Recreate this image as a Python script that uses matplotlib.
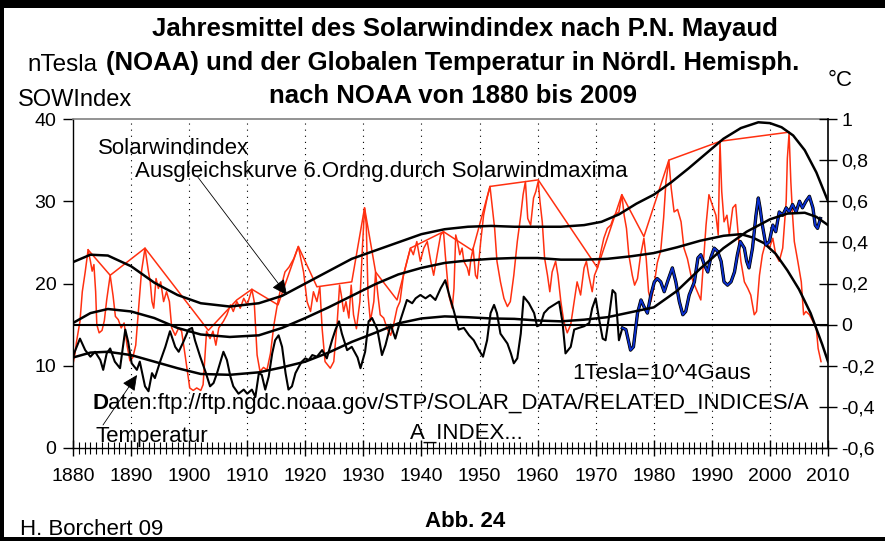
import matplotlib
matplotlib.use('Agg')
import matplotlib.pyplot as plt
from matplotlib.patches import Rectangle

plt.rcParams['font.family'] = ['Liberation Sans', 'DejaVu Sans']

# ---------------- data ----------------
# Solar wind index (nT), smoothed monthly values
sw_years = [1880.0, 1880.3, 1880.6, 1881.2, 1881.6, 1882.1, 1882.6, 1883.0, 1883.3, 1883.6, 1883.9,
            1884.1, 1884.5, 1885.0, 1885.4, 1885.8, 1886.4, 1886.9, 1887.3, 1887.8, 1888.3, 1888.8,
            1889.3, 1889.8, 1890.3, 1890.8, 1891.3, 1891.8, 1892.4, 1893.0, 1893.3, 1893.6, 1893.9,
            1894.3, 1894.7, 1895.1, 1895.6, 1896.1, 1896.6, 1897.0, 1897.6, 1898.2, 1898.7, 1899.3,
            1900.1, 1900.7, 1901.3, 1902.0, 1902.4, 1903.0, 1903.6, 1904.1, 1904.6, 1905.1, 1905.9,
            1906.5, 1907.1, 1907.6, 1908.2, 1908.8, 1909.4, 1910.0, 1910.8, 1911.2, 1911.7, 1912.2,
            1912.8, 1913.4, 1914.0, 1914.6, 1915.2, 1915.8, 1916.5, 1917.2, 1918.0, 1918.8, 1919.7,
            1920.3, 1920.9, 1921.4, 1922.0, 1922.5, 1922.9, 1923.4, 1924.3, 1924.9, 1925.5, 1925.9,
            1926.2, 1926.6, 1927.0, 1927.5, 1927.9, 1928.3, 1928.8, 1929.4, 1929.8, 1930.2, 1930.5,
            1930.8, 1931.2, 1931.8, 1932.1, 1932.5, 1932.9, 1933.5, 1934.1, 1934.7, 1935.2, 1935.8,
            1936.3, 1936.9, 1937.5, 1938.1, 1938.6, 1939.2, 1939.8, 1940.4, 1941.0, 1941.6, 1942.1,
            1942.7, 1943.3, 1943.8, 1944.1, 1944.7, 1945.3, 1945.6, 1945.9, 1946.2, 1946.6, 1947.0,
            1947.3, 1947.9, 1948.2, 1948.5, 1948.9, 1949.3, 1949.6, 1950.2, 1950.7, 1951.3, 1951.8,
            1952.2, 1952.6, 1953.0, 1953.6, 1954.2, 1954.8, 1955.3, 1955.9, 1956.5, 1957.1, 1957.5,
            1957.9, 1958.3, 1958.8, 1959.3, 1959.7, 1960.1, 1960.4, 1960.8, 1961.2, 1961.7, 1962.1,
            1962.5, 1963.1, 1963.5, 1964.0, 1964.5, 1965.1, 1965.7, 1966.3, 1966.8, 1967.4, 1968.0,
            1968.4, 1968.8, 1969.4, 1969.8, 1970.3, 1970.9, 1971.4, 1972.0, 1972.6, 1973.2, 1974.0,
            1974.5, 1974.9, 1975.3, 1975.7, 1976.3, 1976.7, 1977.2, 1977.7, 1978.3, 1978.7, 1979.1,
            1979.5, 1980.0, 1980.6, 1981.2, 1981.7, 1982.1, 1982.6, 1983.0, 1983.5, 1984.1, 1984.7,
            1985.2, 1985.8, 1986.4, 1986.9, 1987.5, 1988.1, 1988.5, 1989.0, 1989.5, 1990.1, 1990.7,
            1991.1, 1991.4, 1991.7, 1992.1, 1992.6, 1993.0, 1993.6, 1994.1, 1994.5, 1995.0, 1995.6,
            1996.2, 1996.7, 1997.3, 1997.7, 1998.2, 1998.7, 1999.3, 1999.9, 2000.5, 2001.0, 2001.6,
            2002.2, 2002.8, 2003.0, 2003.3, 2003.6, 2003.9, 2004.2, 2004.8, 2005.4, 2005.8, 2006.2,
            2006.8, 2007.4, 2008.0, 2008.3, 2008.8]
sw_vals = [10.2, 11.3, 12.9, 15.4, 19.0, 21.4, 24.1, 22.7, 21.5, 22.3, 19.0,
           15.0, 14.0, 14.3, 15.5, 18.0, 21.0, 18.5, 16.0, 15.6, 14.6, 15.2,
           12.5, 10.6, 11.0, 12.5, 17.0, 21.5, 24.3, 21.4, 20.2, 17.8, 17.0,
           20.6, 19.4, 20.2, 17.8, 19.0, 17.8, 14.6, 13.7, 14.6, 14.2, 11.3,
           7.3, 7.0, 7.3, 7.0, 7.7, 14.2, 13.3, 14.2, 12.5, 14.6, 15.4,
           16.2, 17.4, 16.6, 17.8, 17.0, 18.2, 17.4, 19.3, 17.8, 11.3, 9.3,
           9.8, 9.5, 11.5, 15.0, 17.5, 19.5, 21.4, 22.0, 23.0, 24.5, 21.4,
           17.8, 16.6, 19.0, 17.8, 19.6, 14.5, 10.5, 9.7, 10.5, 15.4, 19.8,
           18.6, 16.6, 17.8, 15.8, 19.8, 16.2, 14.5, 17.8, 23.9, 29.2, 27.1,
           18.6, 15.4, 17.8, 21.4, 18.6, 16.2, 15.8, 14.5, 13.7, 15.0, 17.0,
           17.8, 21.0, 22.7, 24.3, 23.5, 25.1, 22.7, 24.3, 25.1, 22.7, 21.0,
           23.5, 25.9, 26.3, 23.5, 18.6, 17.0, 19.4, 25.9, 25.1, 23.5, 24.3,
           22.7, 21.9, 21.0, 22.9, 24.3, 21.0, 20.6, 25.1, 28.3, 30.4, 31.8,
           29.2, 26.7, 22.7, 20.2, 18.2, 17.2, 17.8, 21.0, 25.1, 28.3, 30.8,
           32.4, 27.9, 27.1, 30.4, 31.2, 32.4, 30.0, 27.5, 23.1, 21.0, 19.0,
           21.4, 22.7, 21.0, 17.8, 15.4, 14.0, 15.0, 17.8, 20.2, 18.6, 21.9,
           22.7, 21.0, 19.0, 21.0, 21.9, 23.9, 25.5, 26.7, 27.1, 28.3, 28.7,
           30.8, 28.3, 26.7, 23.5, 21.0, 19.8, 20.6, 23.3, 25.5, 23.0, 19.0,
           17.8, 19.5, 22.5, 24.0, 28.0, 32.4, 35.0, 31.6, 28.7, 29.0, 27.5,
           24.3, 23.0, 21.0, 20.0, 19.0, 18.0, 22.0, 27.1, 30.8, 29.5, 28.3,
           25.9, 37.3, 31.2, 27.5, 28.3, 25.9, 29.2, 29.6, 26.3, 22.7, 20.2,
           19.4, 18.6, 16.2, 16.6, 21.0, 23.5, 25.1, 24.3, 25.5, 23.5, 22.7,
           24.3, 30.0, 35.2, 38.3, 32.4, 28.3, 25.1, 22.7, 20.2, 16.2, 16.6,
           16.2, 15.4, 14.5, 12.1, 10.5]

# line connecting the solar wind maxima (nT)
env_years = [1882.6, 1886.4, 1892.4, 1903.3, 1908.2, 1910.8, 1915.3, 1918.8, 1922.0, 1928.0,
             1930.2, 1932.1, 1935.8, 1938.1, 1943.8, 1948.8, 1951.8, 1960.1, 1970.3, 1974.5,
             1978.3, 1982.6, 1991.5, 2003.3]
env_vals = [24.1, 21.0, 24.3, 14.3, 18.0, 19.3, 17.4, 24.5, 19.6, 20.2,
            29.2, 21.4, 18.0, 24.3, 26.3, 24.0, 31.8, 32.6, 21.9, 30.8,
            25.7, 35.0, 37.3, 38.4]

# temperature anomaly northern hemisphere (deg C)
temp_years = [1880.0, 1880.3, 1881.2, 1882.1, 1883.0, 1883.8, 1884.7, 1885.2, 1885.8, 1886.4,
              1887.2, 1888.1, 1889.0, 1889.5, 1890.1, 1891.0, 1891.5, 1892.4, 1893.0, 1893.6,
              1894.1, 1895.0, 1895.9, 1896.7, 1897.6, 1898.2, 1899.0, 1899.9, 1900.5, 1901.0,
              1901.9, 1902.8, 1903.6, 1904.2, 1904.8, 1905.3, 1905.9, 1906.5, 1907.1, 1907.6,
              1908.5, 1909.4, 1910.0, 1910.8, 1911.4, 1912.0, 1912.5, 1913.1, 1913.7, 1914.3,
              1914.8, 1915.4, 1916.0, 1916.6, 1917.1, 1917.7, 1918.3, 1918.9, 1919.4, 1920.0,
              1920.6, 1921.2, 1922.0, 1922.9, 1923.7, 1924.6, 1925.2, 1925.8, 1926.3, 1927.2,
              1928.0, 1929.0, 1929.5, 1930.3, 1930.9, 1931.5, 1932.4, 1933.2, 1933.8, 1934.7,
              1935.5, 1936.4, 1937.5, 1938.4, 1939.0, 1939.8, 1940.7, 1941.5, 1942.4, 1943.3,
              1944.1, 1944.7, 1945.6, 1946.4, 1947.3, 1948.2, 1949.0, 1949.9, 1950.6, 1951.3,
              1951.9, 1952.5, 1953.0, 1953.6, 1954.2, 1954.8, 1955.4, 1955.9, 1956.5, 1957.1,
              1957.6, 1958.5, 1959.4, 1959.9, 1960.5, 1961.1, 1961.9, 1962.8, 1963.7, 1964.3,
              1964.8, 1965.7, 1966.3, 1967.1, 1968.0, 1968.9, 1969.4, 1970.0, 1970.6, 1971.2,
              1971.7, 1972.3, 1972.9, 1973.4, 1974.0, 1974.6, 1975.2, 1976.0, 1976.5, 1977.2,
              1977.8, 1978.3, 1978.9, 1979.5, 1980.1, 1980.6, 1981.2, 1981.8, 1982.5, 1983.2,
              1983.8, 1984.4, 1985.0, 1985.5, 1986.1, 1987.0, 1987.6, 1988.1, 1988.7, 1989.3,
              1989.8, 1990.4, 1991.0, 1991.6, 1992.1, 1992.7, 1993.3, 1993.9, 1994.4, 1994.9,
              1995.6, 1996.0, 1996.4, 1997.0, 1997.6, 1998.0, 1998.3, 1998.7, 1999.3, 1999.9,
              2000.5, 2001.0, 2001.6, 2002.2, 2002.8, 2003.3, 2003.9, 2004.5, 2005.1, 2005.6,
              2006.2, 2006.8, 2007.4, 2007.8, 2008.2, 2008.7]
temp_vals = [-0.160, -0.132, -0.068, -0.124, -0.156, -0.132, -0.172, -0.220, -0.140, -0.116,
             -0.180, -0.212, -0.024, -0.084, -0.188, -0.220, -0.180, -0.300, -0.324, -0.236,
             -0.260, -0.180, -0.108, -0.032, -0.108, -0.132, -0.084, -0.024, -0.016, -0.076,
             -0.156, -0.228, -0.300, -0.284, -0.236, -0.188, -0.132, -0.172, -0.252, -0.300,
             -0.336, -0.316, -0.336, -0.316, -0.352, -0.236, -0.244, -0.316, -0.252, -0.140,
             -0.076, -0.052, -0.108, -0.236, -0.316, -0.300, -0.236, -0.204, -0.180, -0.164,
             -0.172, -0.148, -0.156, -0.124, -0.164, -0.076, -0.024, 0.016, -0.044, -0.124,
             -0.108, -0.160, -0.212, -0.132, 0.016, 0.032, -0.024, -0.148, -0.100, 0.000,
             -0.068, 0.024, 0.120, 0.104, 0.128, 0.144, 0.128, 0.144, 0.120, 0.176,
             0.216, 0.152, 0.064, -0.024, -0.016, -0.052, -0.076, -0.124, -0.156, -0.076,
             0.056, 0.096, 0.056, -0.044, -0.068, -0.092, -0.140, -0.188, -0.164, -0.044,
             0.136, 0.104, 0.056, -0.008, 0.000, 0.056, 0.080, 0.096, 0.112, 0.008,
             -0.140, -0.108, -0.024, -0.016, -0.008, 0.008, 0.080, 0.128, 0.024, -0.068,
             -0.076, 0.040, 0.168, 0.152, -0.076, -0.016, -0.024, -0.124, -0.108, 0.056,
             0.120, 0.088, 0.056, 0.144, 0.208, 0.224, 0.208, 0.160, 0.220, 0.276,
             0.208, 0.112, 0.048, 0.064, 0.144, 0.208, 0.324, 0.340, 0.292, 0.256,
             0.324, 0.372, 0.356, 0.308, 0.208, 0.192, 0.208, 0.256, 0.340, 0.404,
             0.372, 0.308, 0.276, 0.372, 0.532, 0.616, 0.568, 0.484, 0.388, 0.404,
             0.484, 0.452, 0.548, 0.532, 0.568, 0.548, 0.584, 0.548, 0.600, 0.568,
             0.600, 0.624, 0.568, 0.484, 0.468, 0.516]
blue_from_year = 1974.6

# 6th-order fit through solar wind maxima (nT)
fitA_years = [1880, 1883, 1886, 1890, 1894, 1898, 1902, 1907, 1912, 1916, 1920, 1924, 1928, 1932,
              1936, 1940, 1944, 1948, 1952, 1956, 1960, 1964, 1968, 1971, 1974, 1977, 1980, 1983,
              1986, 1989, 1992, 1995, 1998, 2000, 2002, 2004, 2006, 2008, 2010]
fitA_vals = [22.6, 23.5, 23.4, 22.1, 20.1, 18.6, 17.6, 17.2, 17.6, 18.5, 20.0, 21.5, 23.0, 24.0,
             25.0, 26.0, 26.6, 26.9, 27.0, 26.9, 26.9, 26.9, 27.1, 27.5, 28.4, 29.7, 30.8, 32.3,
             34.0, 35.8, 37.6, 38.9, 39.6, 39.5, 39.0, 38.0, 36.2, 33.5, 30.0]

# fit through solar wind index (nT)
fitB_years = [1880, 1883, 1886, 1890, 1894, 1898, 1902, 1907, 1912, 1916, 1920, 1924, 1928, 1932,
              1936, 1940, 1944, 1948, 1952, 1956, 1960, 1964, 1968, 1972, 1976, 1980, 1984, 1988,
              1992, 1995, 1997, 1999, 2001, 2003, 2005, 2007, 2009, 2010]
fitB_vals = [15.2, 16.4, 16.9, 16.6, 15.8, 14.6, 13.8, 13.5, 13.7, 14.6, 15.8, 17.1, 18.5, 19.9,
             21.1, 21.9, 22.5, 22.8, 23.0, 23.1, 23.1, 22.9, 22.9, 23.0, 23.3, 23.7, 24.4, 25.2,
             25.8, 26.0, 25.6, 24.9, 23.6, 21.6, 19.3, 16.4, 12.6, 10.5]

# fit through temperature (deg C)
fitT_years = [1880, 1883, 1886, 1890, 1894, 1898, 1902, 1907, 1912, 1916, 1920, 1924, 1928, 1932,
              1936, 1940, 1944, 1948, 1952, 1956, 1960, 1964, 1968, 1972, 1976, 1980, 1984, 1988,
              1992, 1996, 2000, 2003, 2006, 2008, 2010]
fitT_vals = [-0.160, -0.136, -0.132, -0.148, -0.180, -0.212, -0.240, -0.244, -0.232, -0.208,
             -0.180, -0.136, -0.084, -0.040, 0.006, 0.030, 0.040, 0.036, 0.030, 0.028, 0.020,
             0.016, 0.024, 0.036, 0.060, 0.084, 0.164, 0.272, 0.372, 0.452, 0.512, 0.540, 0.544,
             0.524, 0.484]

year_ticks = list(range(1880, 2011, 10))
left_ticks = [0, 10, 20, 30, 40]
right_ticks = [-0.6, -0.4, -0.2, 0.0, 0.2, 0.4, 0.6, 0.8, 1.0]
right_labels = ['-0,6', '-0,4', '-0,2', '0', '0,2', '0,4', '0,6', '0,8', '1']

# ---------------- figure ----------------
W, H = 885, 541
fig = plt.figure(figsize=(W / 100, H / 100), dpi=100)
fig.patch.set_facecolor('white')


def fx(px):
    return px / W


def fy(py):
    return 1 - py / H


RED = '#ff3010'
BLUE = '#0a2fd0'

ax = fig.add_axes([fx(73), fy(448), (828 - 73) / W, (448 - 119) / H])
ax.set_xlim(1880, 2010)
ax.set_ylim(0, 40)
ax.patch.set_alpha(0)

for yr in year_ticks[1:-1]:
    ax.axvline(yr, color='black', lw=0.8, ls=(0, (1, 4.5)), zorder=1)

ax.plot(sw_years, sw_vals, color=RED, lw=1.1, zorder=2)
ax.plot(env_years, env_vals, color=RED, lw=1.1, zorder=2)
ax.plot(fitA_years, fitA_vals, color='black', lw=1.8, zorder=4)
ax.plot(fitB_years, fitB_vals, color='black', lw=1.8, zorder=4)

ax.set_xticks(year_ticks)
ax.set_xticks(range(1880, 2011), minor=True)
ax.set_yticks(left_ticks)
ax.tick_params(axis='x', which='major', direction='inout', length=11, width=1, labelsize=14, pad=9)
ax.tick_params(axis='x', which='minor', direction='inout', length=9, width=0.8)
ax.tick_params(axis='y', which='major', direction='out', length=7, width=1, labelsize=14, pad=5)
for s in ['left', 'bottom']:
    ax.spines[s].set_color('black')
    ax.spines[s].set_linewidth(1.0)
ax.spines['top'].set_color('#808080')
ax.spines['top'].set_linewidth(1.2)
ax.spines['right'].set_visible(False)

ax2 = ax.twinx()
ax2.set_ylim(-0.6, 1.0)
ax2.set_yticks(right_ticks)
ax2.set_yticklabels(right_labels)
ax2.tick_params(axis='y', direction='inout', length=13, width=1, labelsize=14, pad=3)
ax2.spines['right'].set_color('black')
ax2.spines['right'].set_linewidth(1.2)
for s in ['top', 'left', 'bottom']:
    ax2.spines[s].set_visible(False)

ax2.axhline(0, color='black', lw=1.5, zorder=3)
ax2.plot(temp_years, temp_vals, color='black', lw=1.5, zorder=4)
by = [y for y in temp_years if y >= blue_from_year]
bv = [v for y, v in zip(temp_years, temp_vals) if y >= blue_from_year]
ax2.plot(by, bv, color='black', lw=2.4, zorder=5)
ax2.plot(by, bv, color=BLUE, lw=1.3, zorder=6)
ax2.plot(fitT_years, fitT_vals, color='black', lw=1.8, zorder=7)

# ---------------- texts ----------------
fig.text(fx(465), fy(36), 'Jahresmittel des Solarwindindex nach P.N. Mayaud',
         ha='center', va='baseline', fontsize=18.5, fontweight='bold')
fig.text(fx(453), fy(70), '(NOAA) und der Globalen Temperatur in Nördl. Hemisph.',
         ha='center', va='baseline', fontsize=18.5, fontweight='bold')
fig.text(fx(453), fy(103), 'nach NOAA von 1880 bis 2009',
         ha='center', va='baseline', fontsize=18.5, fontweight='bold')
fig.text(fx(27), fy(71), 'nTesla', ha='left', va='baseline', fontsize=17.5)
fig.text(fx(18), fy(106), 'SOWIndex', ha='left', va='baseline', fontsize=17)
fig.text(fx(828), fy(86), '°C', ha='left', va='baseline', fontsize=16)

fig.text(fx(98), fy(154), 'Solarwindindex', ha='left', va='baseline', fontsize=16)
fig.text(fx(135), fy(177), 'Ausgleichskurve 6.Ordng.durch Solarwindmaxima',
         ha='left', va='baseline', fontsize=16)
fig.text(fx(572), fy(379), '1Tesla=10^4Gaus', ha='left', va='baseline', fontsize=16)
tD = fig.text(fx(92), fy(409), 'D', ha='left', va='baseline', fontsize=16, fontweight='bold')
renderer = fig.canvas.get_renderer()
bbD = tD.get_window_extent(renderer)
fig.text(bbD.x1 / W, fy(409), 'aten:ftp://ftp.ngdc.noaa.gov/STP/SOLAR_DATA/RELATED_INDICES/A',
         ha='left', va='baseline', fontsize=16)
fig.text(fx(410), fy(439), 'A_INDEX...', ha='left', va='baseline', fontsize=16)
fig.text(fx(95), fy(442), 'Temperatur', ha='left', va='baseline', fontsize=16)
fig.text(fx(20), fy(535), 'H. Borchert 09', ha='left', va='baseline', fontsize=16)
fig.text(fx(465), fy(527), 'Abb. 24', ha='center', va='baseline', fontsize=16, fontweight='bold')

# arrows
arrow_style = '-|>,head_length=0.95,head_width=0.45'
ax.annotate('', xy=(287, H - 295), xycoords='figure pixels',
            xytext=(197, H - 176), textcoords='figure pixels',
            arrowprops=dict(arrowstyle=arrow_style, color='black', lw=0.6,
                            shrinkA=0, shrinkB=0, mutation_scale=10),
            annotation_clip=False)
ax.annotate('', xy=(137, H - 375), xycoords='figure pixels',
            xytext=(103, H - 425), textcoords='figure pixels',
            arrowprops=dict(arrowstyle=arrow_style, color='black', lw=0.6,
                            shrinkA=0, shrinkB=0, mutation_scale=10),
            annotation_clip=False)

# frame border
fig.patches.append(Rectangle((0, fy(8)), 1, 8 / H, transform=fig.transFigure,
                             facecolor='black', edgecolor='none', zorder=10))
fig.patches.append(Rectangle((0, 0), 4 / W, 1, transform=fig.transFigure,
                             facecolor='black', edgecolor='none', zorder=10))
fig.patches.append(Rectangle((0, 0), 1, 4 / H, transform=fig.transFigure,
                             facecolor='black', edgecolor='none', zorder=10))

fig.savefig('out.png', dpi=100)
